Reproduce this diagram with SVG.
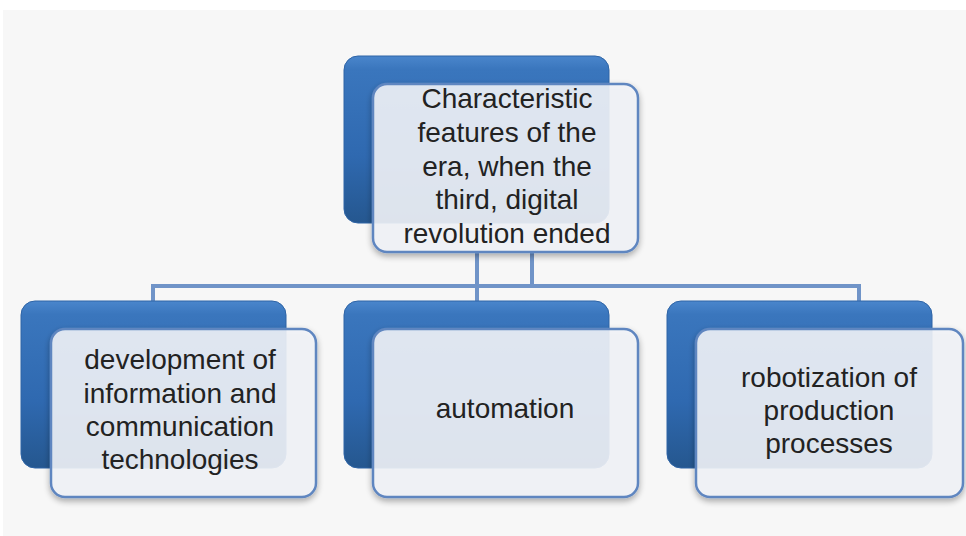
<svg xmlns="http://www.w3.org/2000/svg" width="966" height="536" viewBox="0 0 966 536">
<defs>
<linearGradient id="dark" x1="0" y1="0" x2="0" y2="1">
<stop offset="0" stop-color="#4a86cc"/>
<stop offset="0.08" stop-color="#3a76bd"/>
<stop offset="0.6" stop-color="#2f69b0"/>
<stop offset="1" stop-color="#25578f"/>
</linearGradient>
<filter id="sh" x="-10%" y="-10%" width="120%" height="130%">
<feGaussianBlur in="SourceAlpha" stdDeviation="3"/>
<feOffset dx="0" dy="3" result="b"/>
<feComponentTransfer><feFuncA type="linear" slope="0.35"/></feComponentTransfer>
<feMerge><feMergeNode/><feMergeNode in="SourceGraphic"/></feMerge>
</filter>
</defs>
<style>
.dk{fill:url(#dark);stroke:#2e64a6;stroke-width:1}
.lt{fill:#f3f5f9;fill-opacity:0.88;stroke:#5f86c0;stroke-width:2.5}
.t{font-family:"Liberation Sans","Open Sans",sans-serif;font-size:28px;fill:#222222;text-anchor:middle}
.c{fill:none;stroke:#7094c8;stroke-width:4}
</style>
<rect x="0" y="0" width="966" height="536" fill="#ffffff"/>
<rect x="3" y="10" width="963" height="526" fill="#f7f7f7"/>
<g id="connectors">
<path class="c" d="M477 253 V286 M532 253 V286 M153 301 V286 H859 V301 M477 286 V301"/>
</g>
<g id="top">
<rect class="dk" x="344" y="56" width="265" height="167" rx="14"/>
<rect class="lt" x="373" y="84" width="265" height="168" rx="14" filter="url(#sh)"/>
<text class="t" x="507" y="108">Characteristic</text>
<text class="t" x="507" y="142">features of the</text>
<text class="t" x="507" y="176">era, when the</text>
<text class="t" x="507" y="209">third, digital</text>
<text class="t" x="507" y="243">revolution ended</text>
</g>
<g id="left">
<rect class="dk" x="21" y="301" width="265" height="167" rx="14"/>
<rect class="lt" x="51" y="329" width="265" height="168" rx="14" filter="url(#sh)"/>
<text class="t" x="180" y="369">development of</text>
<text class="t" x="180" y="403">information and</text>
<text class="t" x="180" y="436">communication</text>
<text class="t" x="180" y="469">technologies</text>
</g>
<g id="middle">
<rect class="dk" x="344" y="301" width="265" height="167" rx="14"/>
<rect class="lt" x="373" y="329" width="265" height="168" rx="14" filter="url(#sh)"/>
<text class="t" x="505" y="418">automation</text>
</g>
<g id="right">
<rect class="dk" x="667" y="301" width="265" height="167" rx="14"/>
<rect class="lt" x="696" y="329" width="267" height="168" rx="14" filter="url(#sh)"/>
<text class="t" x="829" y="387">robotization of</text>
<text class="t" x="829" y="420">production</text>
<text class="t" x="829" y="453">processes</text>
</g>
</svg>
